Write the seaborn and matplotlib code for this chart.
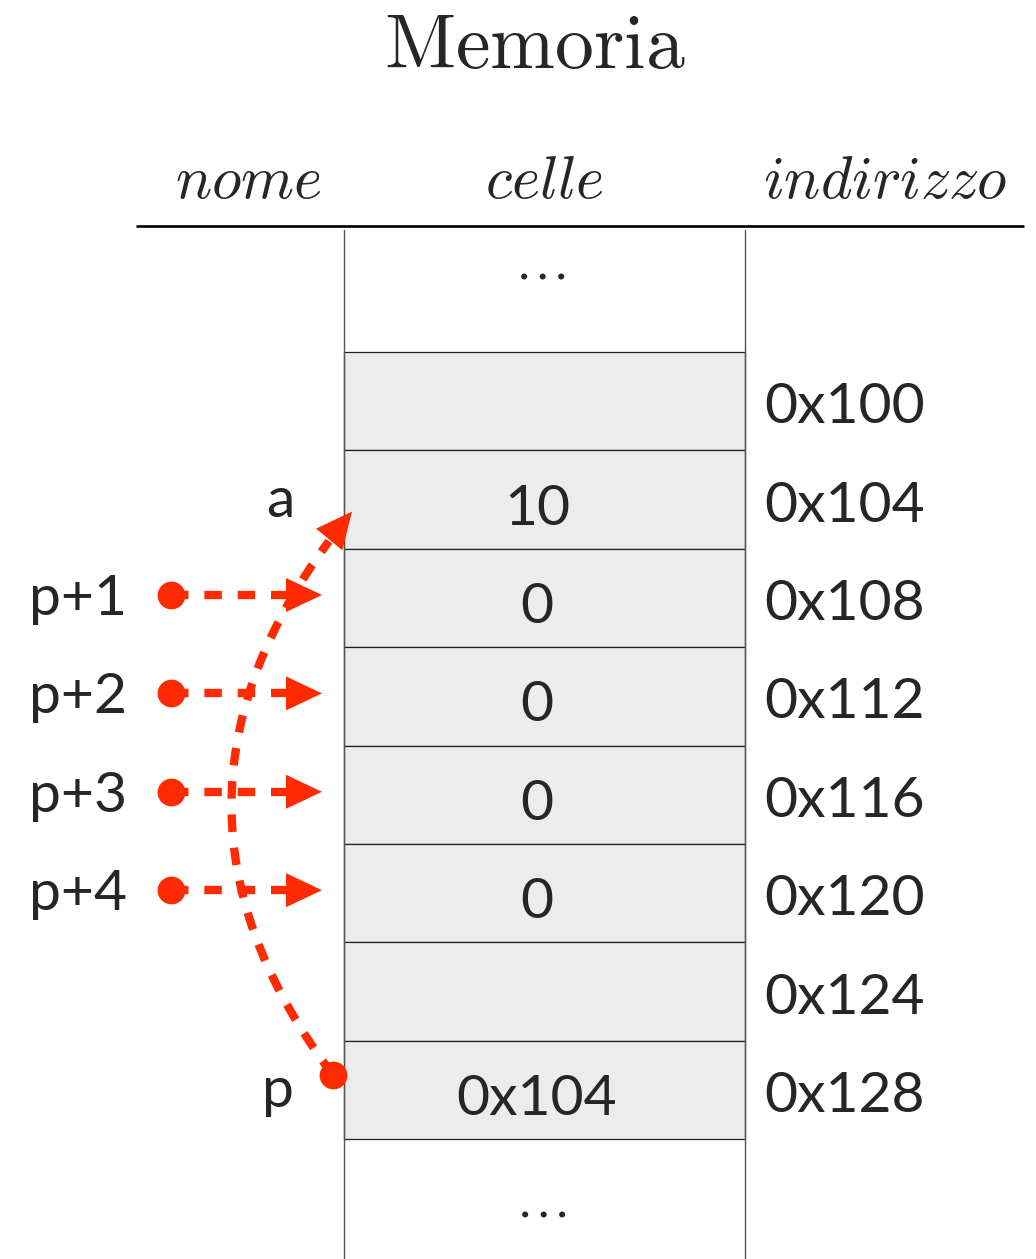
import numpy as np
import matplotlib
matplotlib.use("Agg")
import matplotlib.pyplot as plt
import seaborn as sns

# ============================================================
# Data
# ============================================================

addresses = ["0x100", "0x104", "0x108", "0x112", "0x116", "0x120", "0x124", "0x128"]
values = ["", "10", "0", "0", "0", "0", "", "0x104"]
names = ["", "a", "", "", "", "", "", "p"]
pointers = ["p+1", "p+2", "p+3", "p+4"]
pointer_rows = [2, 3, 4, 5]
headers = ["nome", "celle", "indirizzo"]

# ============================================================
# Style / layout
# ============================================================

sns.set_theme(style="white")
plt.rcParams["mathtext.fontset"] = "cm"
plt.rcParams["font.family"] = ["Lato", "DejaVu Sans"]

RED = "#ff2a00"
GRAY = "#ececec"
W, H = 1036, 1259
TOP = 352
ROW_H = 98.4
CELL_L, CELL_R = 344, 745
SANS = 41

fig = plt.figure(figsize=(W / 100, H / 100), dpi=100)
ax = fig.add_axes([0, 0, 1, 1])
ax.set_xlim(0, W)
ax.set_ylim(H, 0)
ax.axis("off")

n = len(addresses)
tops = TOP + ROW_H * np.arange(n)
centers = tops + ROW_H / 2

# title and headers
ax.text((CELL_L + CELL_R) / 2 - 10, 68, r"$\mathrm{Memoria}$", fontsize=56,
        ha="center", va="baseline")
for x, h in zip([248, 544, 885], headers):
    ax.text(x, 198, r"$\mathit{" + h + "}$", fontsize=43.5, ha="center", va="baseline")
ax.plot([136, 1024], [226, 226], color="black", lw=1.9, solid_capstyle="butt")

# memory cells
ax.barh(tops, CELL_R - CELL_L, left=CELL_L, height=ROW_H, align="edge",
        color=GRAY, edgecolor="#222222", linewidth=0.9)
ax.plot([CELL_L, CELL_L], [230, H], color="#555555", lw=1.0)
ax.plot([CELL_R, CELL_R], [230, H], color="#555555", lw=1.0)
ax.text(540, 263, r"$\ldots$", fontsize=40, ha="center", va="center")
ax.text(541, 1201, r"$\ldots$", fontsize=40, ha="center", va="center")

for i in range(n):
    ax.text(764, centers[i] + 22, addresses[i], fontsize=SANS, ha="left", va="baseline")
    if values[i]:
        ax.text(537, centers[i] + 25, values[i], fontsize=SANS, ha="center", va="baseline")
    if names[i]:
        ax.text(294, centers[i] + 17, names[i], fontsize=SANS, ha="right", va="baseline")


def head(tip, d, length=36, half=17):
    d = np.asarray(d, float)
    d = d / np.hypot(*d)
    nrm = np.array([-d[1], d[0]])
    base = np.asarray(tip) - length * d
    tri = np.array([tip, base + half * nrm, base - half * nrm])
    ax.fill(tri[:, 0], tri[:, 1], color=RED, lw=0, zorder=5)
    return base


dash = (0, (2.1, 1.9))

# pointers p+1 .. p+4
for lab, r in zip(pointers, pointer_rows):
    y = centers[r] - 3
    base = head((322, y), (1, 0))
    ax.plot([171, base[0]], [y, y], color=RED, lw=6, ls=dash, dash_capstyle="butt")
    ax.plot(171, y, "o", color=RED, ms=20, mew=0)
    ax.text(29, y + 20, lab, fontsize=SANS, ha="left", va="baseline")

# p -> a curved pointer
p_row = names.index("p")
a_row = names.index("a")
P0 = np.array([333, centers[p_row] - 15])
P2 = np.array([352, centers[a_row] + 12])
C = np.array([121, 793])
base = head(P2, P2 - C)
t = np.linspace(0, 1, 400)[:, None]
curve = (1 - t) ** 2 * P0 + 2 * (1 - t) * t * C + t ** 2 * P2
keep = np.hypot(*(curve - P2).T) >= 36
curve = curve[keep]
ax.plot(curve[:, 0], curve[:, 1], color=RED, lw=6, ls=dash, dash_capstyle="butt")
ax.plot(P0[0], P0[1], "o", color=RED, ms=20, mew=0, zorder=6)

fig.savefig("out.png", dpi=100)
